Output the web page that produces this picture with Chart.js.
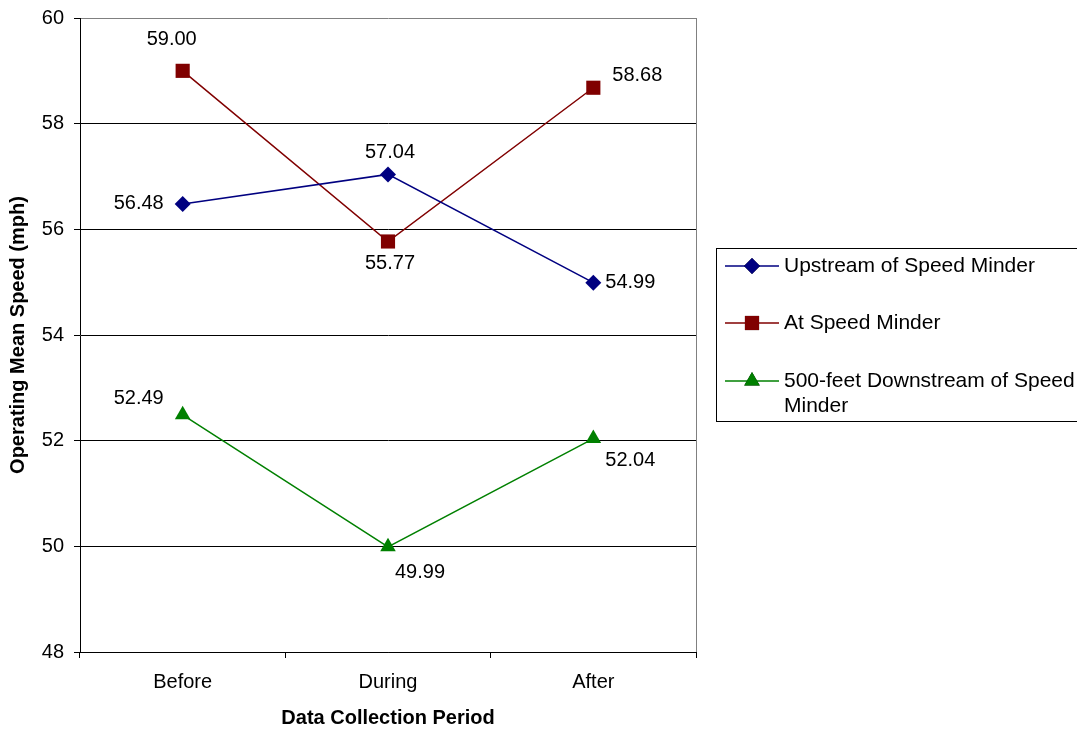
<!DOCTYPE html>
<html>
<head>
<meta charset="utf-8">
<title>Operating Mean Speed by Data Collection Period</title>
<script src="https://cdn.jsdelivr.net/npm/chart.js@4/dist/chart.umd.min.js"></script>
<style>
  html, body { margin: 0; padding: 0; background: #fff; }
  canvas { display: block; }
</style>
</head>
<body>
<canvas id="chart" width="1077" height="730"></canvas>
<script>
// Categories and series values (mph)
const periods = ['Before', 'During', 'After'];
const upstreamSpeeds = [56.48, 57.04, 54.99];
const atMinderSpeeds = [59.00, 55.77, 58.68];
const downstreamSpeeds = [52.49, 49.99, 52.04];
const seriesNames = [
  'Upstream of Speed Minder',
  'At Speed Minder',
  '500-feet Downstream of Speed Minder'
];
const yMin = 48, yMax = 60, yStep = 2;

const FONT = "'Liberation Sans', Arial, Helvetica, sans-serif";

// Where each value label sits relative to its point (dx, dy in px)
const labelOffsets = [
  [[-44, 0], [2, -22], [37, 0]],
  [[-11, -31], [2, 22], [44, -12]],
  [[-44, -16], [32, 26], [37, 22]]
];

// Value labels next to every point
const valueLabels = {
  id: 'valueLabels',
  afterDatasetsDraw(chart) {
    const ctx = chart.ctx;
    ctx.save();
    ctx.font = '20px ' + FONT;
    ctx.fillStyle = '#000';
    ctx.textAlign = 'center';
    ctx.textBaseline = 'middle';
    chart.data.datasets.forEach((ds, di) => {
      const meta = chart.getDatasetMeta(di);
      meta.data.forEach((pt, i) => {
        const off = labelOffsets[di][i];
        ctx.fillText(ds.data[i].toFixed(2), pt.x + off[0], pt.y + off[1]);
      });
    });
    ctx.restore();
  }
};

// Gray frame on the right side of the plot area
const plotFrame = {
  id: 'plotFrame',
  beforeDatasetsDraw(chart) {
    const { ctx, chartArea: a } = chart;
    ctx.save();
    ctx.strokeStyle = '#808080';
    ctx.lineWidth = 1;
    ctx.beginPath();
    ctx.moveTo(Math.round(a.right) + 0.5, a.top);
    ctx.lineTo(Math.round(a.right) + 0.5, a.bottom);
    ctx.stroke();
    ctx.restore();
  }
};

// Boxed legend to the right of the plot, with wrapped labels
const boxedLegend = {
  id: 'boxedLegend',
  afterDraw(chart) {
    const ctx = chart.ctx;
    const box = { x: 716.5, y: 248.5, w: 380, h: 173 };
    const rows = [266, 323, 381];
    const textX = 784, maxW = 300, lineGap = 25;
    ctx.save();
    ctx.strokeStyle = '#000';
    ctx.lineWidth = 1;
    ctx.strokeRect(box.x, box.y, box.w, box.h);
    ctx.font = '21px ' + FONT;
    ctx.textAlign = 'left';
    ctx.textBaseline = 'middle';
    chart.data.datasets.forEach((ds, i) => {
      const y = rows[i];
      ctx.strokeStyle = ds.borderColor;
      ctx.lineWidth = ds.borderWidth;
      ctx.beginPath();
      ctx.moveTo(725, y);
      ctx.lineTo(779, y);
      ctx.stroke();
      Chart.helpers.drawPoint(ctx, {
        pointStyle: ds.pointStyle,
        radius: ds.pointRadius,
        rotation: 0,
        borderWidth: 0
      }, 752, y);
      ctx.fillStyle = ds.pointBackgroundColor;
      ctx.fill();
      // greedy word wrap
      const words = ds.label.split(' ');
      const lines = [];
      let cur = '';
      words.forEach(w => {
        const test = cur ? cur + ' ' + w : w;
        if (cur && ctx.measureText(test).width > maxW) {
          lines.push(cur);
          cur = w;
        } else {
          cur = test;
        }
      });
      if (cur) lines.push(cur);
      ctx.fillStyle = '#000';
      lines.forEach((ln, k) => ctx.fillText(ln, textX, y + k * lineGap));
    });
    ctx.restore();
  }
};

function makeSeries(label, data, color, style, radius) {
  return {
    label,
    data,
    borderColor: color,
    backgroundColor: color,
    pointBackgroundColor: color,
    pointBorderColor: color,
    borderWidth: 1.5,
    pointStyle: style,
    pointRadius: radius,
    pointBorderWidth: 0,
    tension: 0,
    fill: false
  };
}

new Chart(document.getElementById('chart'), {
  type: 'line',
  data: {
    labels: periods,
    datasets: [
      makeSeries(seriesNames[0], upstreamSpeeds, '#000080', 'rectRot', 8),
      makeSeries(seriesNames[1], atMinderSpeeds, '#800000', 'rect', 10),
      makeSeries(seriesNames[2], downstreamSpeeds, '#008000', 'triangle', 9)
    ]
  },
  options: {
    responsive: false,
    animation: false,
    devicePixelRatio: 1,
    layout: { padding: { top: 18, right: 381, left: 0, bottom: 0 } },
    plugins: {
      legend: { display: false },
      tooltip: { enabled: false },
      title: { display: false }
    },
    scales: {
      x: {
        type: 'category',
        offset: true,
        grid: {
          offset: true,
          drawOnChartArea: false,
          drawTicks: true,
          tickLength: 6,
          tickColor: '#000',
          color: '#000'
        },
        border: { display: true, color: '#000', width: 1 },
        ticks: { color: '#000', font: { family: FONT, size: 20 }, padding: 12 },
        title: {
          display: true,
          text: 'Data Collection Period',
          color: '#000',
          font: { family: FONT, size: 20, weight: 'bold' },
          padding: { top: 0, bottom: 0 }
        },
        afterFit(scale) {
          scale.height = 78;
          scale.paddingLeft = 0;
          scale.paddingRight = 0;
        }
      },
      y: {
        min: yMin,
        max: yMax,
        ticks: {
          stepSize: yStep,
          color: '#000',
          font: { family: FONT, size: 20 },
          padding: 10
        },
        grid: {
          drawTicks: true,
          tickLength: 6,
          tickColor: '#000',
          color: ctx => (ctx.tick && ctx.tick.value === yMax ? '#808080' : '#000'),
          lineWidth: 1
        },
        border: { display: true, color: '#000', width: 1 },
        title: {
          display: true,
          text: 'Operating Mean Speed (mph)',
          color: '#000',
          font: { family: FONT, size: 20, weight: 'bold' },
          padding: { top: 6, bottom: 0 }
        },
        afterFit(scale) {
          scale.width = 80;
          scale.paddingTop = 0;
          scale.paddingBottom = 0;
        }
      }
    }
  },
  plugins: [plotFrame, valueLabels, boxedLegend]
});
</script>
</body>
</html>
